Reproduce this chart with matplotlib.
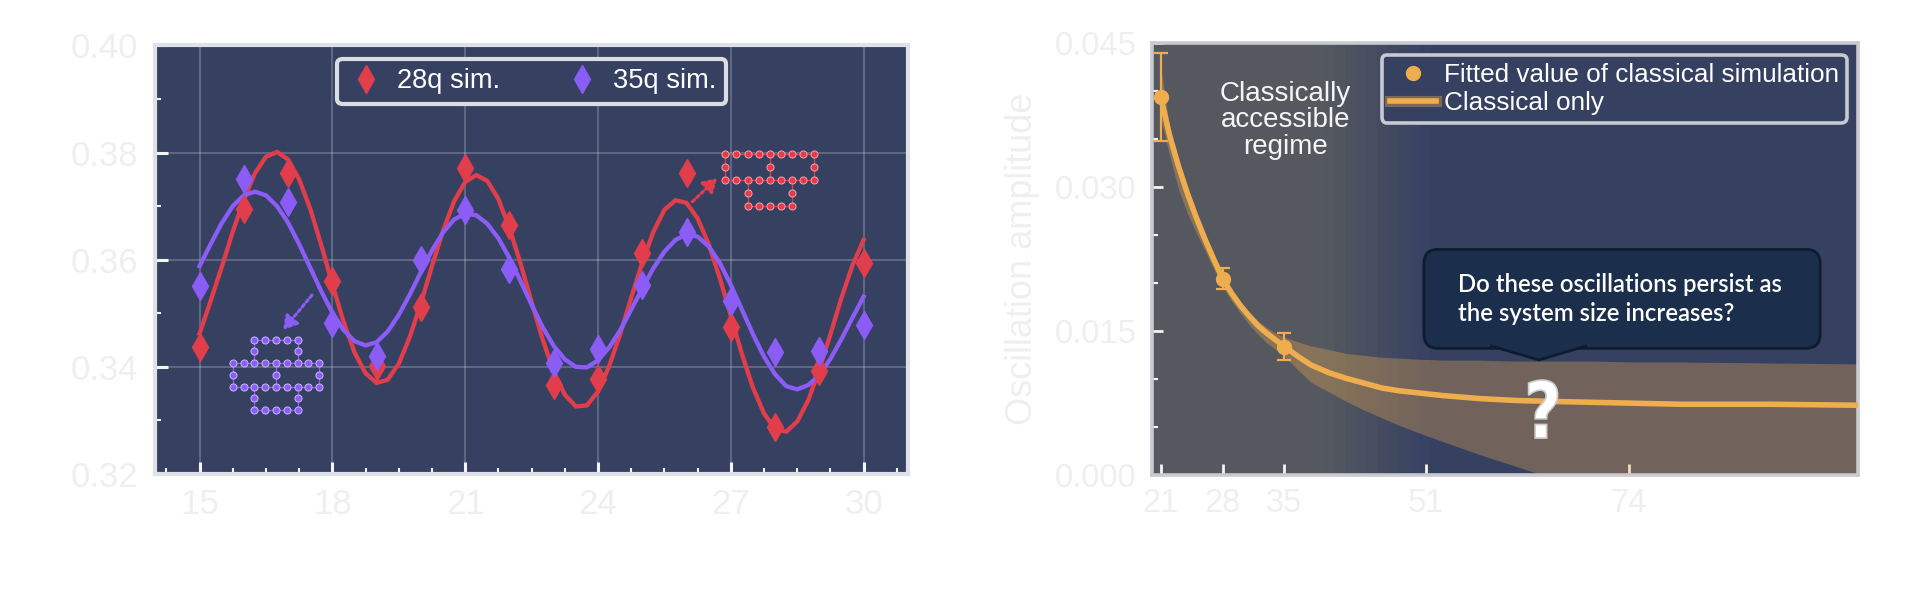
import matplotlib
matplotlib.use("Agg")
import matplotlib.pyplot as plt
import matplotlib.transforms as mtransforms
import numpy as np
from matplotlib.colors import to_rgb
from matplotlib.font_manager import FontProperties
from matplotlib.lines import Line2D
from matplotlib.patches import FancyBboxPatch, PathPatch, Polygon
from matplotlib.textpath import TextPath
from matplotlib.ticker import FixedLocator, FormatStrFormatter, MultipleLocator

plt.rcParams.update({
    "font.family": ["Liberation Sans", "DejaVu Sans"],
})

# ---- left panel: simulated oscillations -------------------------------------
N_SIM = [15, 16, 17, 18, 19, 20, 21, 22, 23, 24, 25, 26, 27, 28, 29, 30]
SIM_28Q = [0.3437, 0.3694, 0.3761, 0.3560, 0.3401, 0.3512, 0.3771, 0.3665,
           0.3367, 0.3377, 0.3612, 0.3762, 0.3475, 0.3287, 0.3392, 0.3594]
SIM_35Q = [0.3550, 0.3750, 0.3707, 0.3482, 0.3421, 0.3600, 0.3693, 0.3583,
           0.3408, 0.3434, 0.3553, 0.3651, 0.3522, 0.3428, 0.3429, 0.3479]

FIT_N = [15.0, 15.25, 15.5, 15.75, 16.0, 16.25, 16.5, 16.75, 17.0, 17.25,
         17.5, 17.75, 18.0, 18.25, 18.5, 18.75, 19.0, 19.25, 19.5, 19.75,
         20.0, 20.25, 20.5, 20.75, 21.0, 21.25, 21.5, 21.75, 22.0, 22.25,
         22.5, 22.75, 23.0, 23.25, 23.5, 23.75, 24.0, 24.25, 24.5, 24.75,
         25.0, 25.25, 25.5, 25.75, 26.0, 26.25, 26.5, 26.75, 27.0, 27.25,
         27.5, 27.75, 28.0, 28.25, 28.5, 28.75, 29.0, 29.25, 29.5, 29.75, 30.0]
FIT_28Q = [0.3462, 0.3523, 0.3586, 0.3652, 0.3712, 0.3761, 0.3792, 0.3801, 0.3787, 0.3750,
           0.3695, 0.3627, 0.3554, 0.3485, 0.3427, 0.3388, 0.3370, 0.3376, 0.3406, 0.3456,
           0.3519, 0.3588, 0.3654, 0.3709, 0.3745, 0.3758, 0.3747, 0.3713, 0.3659, 0.3593,
           0.3521, 0.3451, 0.3391, 0.3348, 0.3326, 0.3328, 0.3354, 0.3401, 0.3461, 0.3529,
           0.3595, 0.3652, 0.3693, 0.3711, 0.3706, 0.3677, 0.3629, 0.3566, 0.3495, 0.3424,
           0.3361, 0.3313, 0.3284, 0.3279, 0.3298, 0.3338, 0.3395, 0.3461, 0.3529, 0.3590, 0.3637]
FIT_35Q = [0.3588, 0.3629, 0.3668, 0.3700, 0.3720, 0.3727, 0.3720, 0.3700, 0.3669, 0.3629,
           0.3585, 0.3541, 0.3501, 0.3469, 0.3448, 0.3440, 0.3446, 0.3466, 0.3497, 0.3535,
           0.3577, 0.3617, 0.3651, 0.3675, 0.3686, 0.3683, 0.3667, 0.3640, 0.3603, 0.3560,
           0.3516, 0.3474, 0.3439, 0.3414, 0.3400, 0.3399, 0.3412, 0.3436, 0.3468, 0.3507,
           0.3546, 0.3584, 0.3615, 0.3637, 0.3647, 0.3643, 0.3625, 0.3594, 0.3553, 0.3507,
           0.3461, 0.3419, 0.3386, 0.3364, 0.3358, 0.3366, 0.3385, 0.3415, 0.3452, 0.3492, 0.3531]

# qubit layouts drawn as small insets: columns present in each row
LATTICE_35Q = [[2, 3, 4, 5, 6], [2, 6], [0, 1, 2, 3, 4, 5, 6, 7, 8], [0, 4, 8],
               [0, 1, 2, 3, 4, 5, 6, 7, 8], [2, 6], [2, 3, 4, 5, 6]]
LATTICE_28Q = [[0, 1, 2, 3, 4, 5, 6, 7, 8], [0, 4, 8], [0, 1, 2, 3, 4, 5, 6, 7, 8],
               [2, 6], [2, 3, 4, 5, 6]]

# ---- right panel: oscillation amplitude vs system size ----------------------
N_CLASSICAL = [21, 28, 35]
AMP_CLASSICAL = [0.0394, 0.0205, 0.0134]
AMP_ERR = [0.0046, 0.0011, 0.0014]

FIT_SIZE = [21, 22, 23, 24, 25, 26, 27, 28, 29, 30, 31, 32, 33, 34, 35, 36.5,
            38, 40, 42, 44, 46, 48, 50, 53, 57, 61, 65, 70, 75, 80, 90, 100]
FIT_AMP = [0.0394, 0.0354, 0.0322, 0.0294, 0.0269, 0.0246, 0.0225, 0.0205,
           0.0190, 0.0177, 0.0166, 0.0156, 0.0148, 0.0141, 0.0134, 0.0124,
           0.0115, 0.0107, 0.0101, 0.0096, 0.0091, 0.0088, 0.0086, 0.0083,
           0.0080, 0.0078, 0.0077, 0.0076, 0.0075, 0.0074, 0.0074, 0.0073]
FIT_UPPER = [0.0425, 0.0362, 0.0326, 0.0297, 0.0272, 0.0249, 0.0228, 0.0208,
             0.0193, 0.0181, 0.0170, 0.0161, 0.0154, 0.0148, 0.0144, 0.0139,
             0.0135, 0.0131, 0.0127, 0.0125, 0.0123, 0.0122, 0.0121, 0.0120,
             0.0120, 0.0119, 0.0119, 0.0119, 0.0118, 0.0118, 0.0117, 0.0116]
FIT_LOWER = [0.0372, 0.0333, 0.0298, 0.0273, 0.0253, 0.0234, 0.0215, 0.0196,
             0.0182, 0.0169, 0.0157, 0.0147, 0.0138, 0.0131, 0.0124, 0.0110,
             0.0097, 0.0087, 0.0077, 0.0068, 0.0060, 0.0052, 0.0045, 0.0035,
             0.0022, 0.0010, -0.0002, -0.0015, -0.0028, -0.0040, -0.0062, -0.0082]
SIZE_TICKS = [21, 28, 35, 51, 74]

NAVY = "#364162"
GREY_BG = "#55585f"
RED = "#e23d4b"
PURPLE = "#8b5cf6"
ORANGE = "#f0ad4e"
LABEL_GREY = "#efefef"
TICK_WHITE = "#f4f4f4"


def style_axes(ax, edge, lw):
    for spine in ax.spines.values():
        spine.set_color(edge)
        spine.set_linewidth(lw)


def draw_lattice(ax, bounds, rows, color, edge):
    ins = ax.inset_axes(bounds, transform=ax.transData, zorder=5)
    ins.axis("off")
    ins.patch.set_alpha(0)
    for r, cols in enumerate(rows):
        for c in cols:
            if c + 1 in cols:
                ins.plot([c, c + 1], [r, r], color=color, lw=0.9)
            if r + 1 < len(rows) and c in rows[r + 1]:
                ins.plot([c, c], [r, r + 1], color=color, lw=0.9)
        ins.scatter(cols, [r] * len(cols), s=26, color=color, edgecolor=edge,
                    linewidth=0.7, zorder=3)
    ins.set_xlim(-0.5, 8.5)
    ins.set_ylim(len(rows) - 0.5, -0.5)


fig = plt.figure(figsize=(19.05, 6.11), dpi=100)

# ============================ left panel =====================================
ax = fig.add_axes([0.0815, 0.2242, 0.3951, 0.7016])
ax.set_facecolor(NAVY)
style_axes(ax, "#dfe1e8", 3)

ax.plot(FIT_N, FIT_28Q, color=RED, lw=3.1, zorder=3)
ax.plot(FIT_N, FIT_35Q, color=PURPLE, lw=3.1, zorder=3)
h28, = ax.plot(N_SIM, SIM_28Q, "d", color=RED, ms=14, ls="none", zorder=4, label="28q sim.")
h35, = ax.plot(N_SIM, SIM_35Q, "d", color=PURPLE, ms=14, ls="none", zorder=4, label="35q sim.")

draw_lattice(ax, [15.63, 0.3308, 2.195, 0.0154], LATTICE_35Q, PURPLE, "#c9b8fb")
draw_lattice(ax, [26.75, 0.3689, 2.26, 0.0120], LATTICE_28Q, RED, "#f3a3aa")
ax.annotate("", xy=(16.89, 0.3469), xytext=(17.54, 0.3534),
            arrowprops=dict(arrowstyle="-|>,head_length=0.5,head_width=0.3",
                            linestyle=(0, (1, 1)), lw=2.2, color=PURPLE,
                            shrinkA=0, shrinkB=0, mutation_scale=16))
ax.annotate("", xy=(26.69, 0.3752), xytext=(26.13, 0.3708),
            arrowprops=dict(arrowstyle="-|>,head_length=0.5,head_width=0.3",
                            linestyle=(0, (1, 1)), lw=2.2, color=RED,
                            shrinkA=0, shrinkB=0, mutation_scale=16))

ax.set_xlim(14.0, 31.0)
ax.set_ylim(0.32, 0.40)
ax.xaxis.set_major_locator(MultipleLocator(3))
ax.xaxis.set_minor_locator(MultipleLocator(0.75))
ax.yaxis.set_major_locator(MultipleLocator(0.02))
ax.yaxis.set_minor_locator(MultipleLocator(0.01))
ax.yaxis.set_major_formatter(FormatStrFormatter("%.2f"))
ax.grid(True, which="major", color="white", alpha=0.2, lw=1.5)
ax.set_axisbelow(True)
ax.tick_params(which="both", direction="in", colors=TICK_WHITE,
               labelcolor=LABEL_GREY, labelsize=25)
ax.tick_params(which="major", length=9, width=2.2)
ax.tick_params(which="minor", length=4.5, width=1.5)
ax.tick_params(axis="y", pad=12)
ax.tick_params(axis="x", pad=10)

leg = ax.legend(handles=[h28, h35], loc="upper center", ncol=2, fontsize=19.6,
                numpoints=1, handlelength=1.4, handletextpad=0.45,
                columnspacing=2.3, borderpad=0.35, borderaxespad=0.5,
                fancybox=True, framealpha=1)
leg.get_frame().set_facecolor(NAVY)
leg.get_frame().set_edgecolor("#dcdde3")
leg.get_frame().set_linewidth(3)
for t in leg.get_texts():
    t.set_color("white")

# ============================ right panel ====================================
ax2 = fig.add_axes([0.6047, 0.2221, 0.3708, 0.7070])
ax2.set_facecolor(NAVY)
style_axes(ax2, "#c8cad0", 2.6)

# background: grey "classically accessible" zone fading into navy
grad_start, grad_end, n_steps = 39.5, 51.5, 10
ax2.axvspan(20, grad_start, color=GREY_BG, lw=0, zorder=0)
c0, c1 = np.array(to_rgb(GREY_BG)), np.array(to_rgb(NAVY))
edges = np.linspace(grad_start, grad_end, n_steps + 1)
for i in range(n_steps):
    f = (i + 0.5) / n_steps
    ax2.axvspan(edges[i], edges[i + 1], color=tuple(c0 * (1 - f) + c1 * f), lw=0, zorder=0)

ax2.fill_between(FIT_SIZE, FIT_LOWER, FIT_UPPER, color=ORANGE, alpha=0.32, lw=0, zorder=2)
ax2.plot(FIT_SIZE, FIT_AMP, color=ORANGE, lw=4, zorder=3)
ax2.errorbar(N_CLASSICAL, AMP_CLASSICAL, yerr=AMP_ERR, fmt="o", color=ORANGE,
             ms=10, capsize=5, elinewidth=1.6, capthick=1.6, zorder=4)

ax2.text(35.1, 0.0370, "Classically\naccessible\nregime", ha="center", va="center",
         fontsize=20, color="#f5f5f5", linespacing=1.02, zorder=5)

# callout bubble
aspect = 706.3 / 432
bubble = FancyBboxPatch((0.385, 0.294), 0.561, 0.229,
                        boxstyle="round,pad=0,rounding_size=0.02",
                        mutation_aspect=aspect, transform=ax2.transAxes,
                        facecolor="#1b2e4b", edgecolor="#0e1c30", lw=2, zorder=6)
ax2.add_patch(bubble)
ax2.add_patch(Polygon([(0.4786, 0.300), (0.548, 0.267), (0.6159, 0.300)], closed=False,
                      transform=ax2.transAxes, facecolor="#1b2e4b",
                      edgecolor="#0e1c30", lw=2, zorder=7))
ax2.text(0.433, 0.408, "Do these oscillations persist as\nthe system size increases?",
         transform=ax2.transAxes, ha="left", va="center", fontsize=17.2,
         family=["Lato", "DejaVu Sans"], weight="semibold", color="white",
         linespacing=1.3, zorder=8)

# stylised question mark
qpath = TextPath((0, 0), "?", size=1, prop=FontProperties(family="DejaVu Sans", weight="bold"))
ext = qpath.get_extents()
qtr = (mtransforms.Affine2D()
       .translate(-(ext.x0 + ext.width / 2), -(ext.y0 + ext.height / 2))
       .scale(29 / ext.width, 58 / ext.height)
       + mtransforms.ScaledTranslation(64.3, 0.0069, ax2.transData))
ax2.add_patch(PathPatch(qpath, transform=qtr, facecolor="white",
                        edgecolor="#cfcfcf", lw=1.2, zorder=6))

ax2.set_xlim(20, 100)
ax2.set_ylim(0, 0.045)
ax2.xaxis.set_major_locator(FixedLocator(SIZE_TICKS))
ax2.yaxis.set_major_locator(MultipleLocator(0.015))
ax2.yaxis.set_minor_locator(MultipleLocator(0.005))
ax2.yaxis.set_major_formatter(FormatStrFormatter("%.3f"))
ax2.tick_params(which="both", direction="in", colors=TICK_WHITE,
                labelcolor=LABEL_GREY, labelsize=23.5)
ax2.tick_params(which="major", length=8, width=2)
ax2.tick_params(which="minor", length=4.3, width=1.5)
ax2.tick_params(axis="x", which="minor", length=0)
ax2.tick_params(axis="y", pad=11)
ax2.tick_params(axis="x", pad=9)
ax2.set_ylabel("Oscillation amplitude", fontsize=26, color=LABEL_GREY, labelpad=11)

leg2 = ax2.legend(
    handles=[Line2D([], [], marker="o", ls="none", color=ORANGE, ms=10),
             (Line2D([], [], color="#7b6a55", lw=8), Line2D([], [], color=ORANGE, lw=4))],
    labels=["Fitted value of classical simulation", "Classical only"],
    loc="upper right", fontsize=18.8, handlelength=1.75, handletextpad=0.3,
    borderpad=0.3, labelspacing=0.15, borderaxespad=0.45, fancybox=True, framealpha=1)
leg2.get_frame().set_facecolor(NAVY)
leg2.get_frame().set_edgecolor("#c8cad0")
leg2.get_frame().set_linewidth(2.6)
leg2.set_zorder(9)
for t in leg2.get_texts():
    t.set_color("white")

fig.savefig("out.png", dpi=100)
